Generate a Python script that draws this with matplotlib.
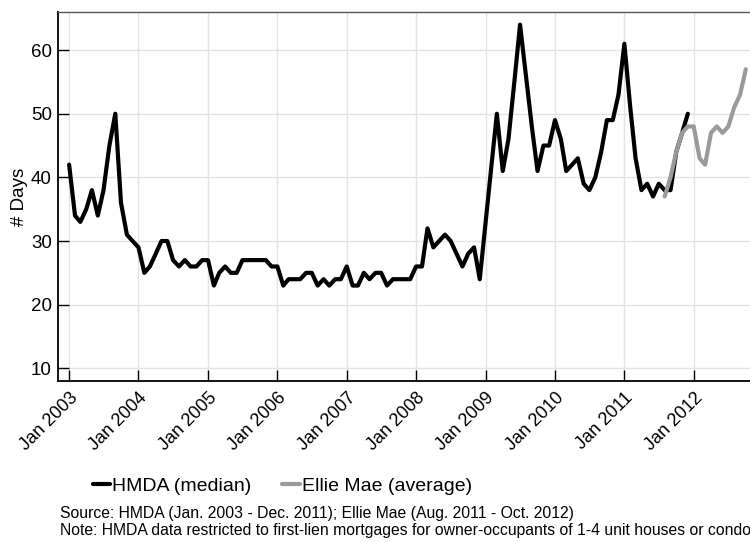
import matplotlib
matplotlib.use("Agg")
import matplotlib.pyplot as plt
import pandas as pd

plt.rcParams['font.family'] = ['Liberation Sans', 'DejaVu Sans']

# HMDA monthly median, Jan 2003 - Dec 2011
hmda_values = [
    42, 34, 33, 35, 38, 34, 38, 45, 50, 36, 31, 30,   # 2003
    29, 25, 26, 28, 30, 30, 27, 26, 27, 26, 26, 27,   # 2004
    27, 23, 25, 26, 25, 25, 27, 27, 27, 27, 27, 26,   # 2005
    26, 23, 24, 24, 24, 25, 25, 23, 24, 23, 24, 24,   # 2006
    26, 23, 23, 25, 24, 25, 25, 23, 24, 24, 24, 24,   # 2007
    26, 26, 32, 29, 30, 31, 30, 28, 26, 28, 29, 24,   # 2008
    33, 42, 50, 41, 46, 55, 64, 56, 48, 41, 45, 45,   # 2009
    49, 46, 41, 42, 43, 39, 38, 40, 44, 49, 49, 53,   # 2010
    61, 51, 43, 38, 39, 37, 39, 38, 38, 44, 47, 50,   # 2011
]
hmda_start = "2003-01-01"

# Ellie Mae monthly average, Aug 2011 - Oct 2012
ellie_values = [37, 40, 44, 47, 48, 48, 43, 42, 47, 48, 47, 48, 51, 53, 57]
ellie_start = "2011-08-01"

tick_years = list(range(2003, 2013))
tick_labels = [f"Jan {y}" for y in tick_years]
y_ticks = [10, 20, 30, 40, 50, 60]

hmda_dates = pd.date_range(hmda_start, periods=len(hmda_values), freq="MS")
ellie_dates = pd.date_range(ellie_start, periods=len(ellie_values), freq="MS")

fig = plt.figure(figsize=(7.5, 5.42), dpi=100)
ax = fig.add_axes([0.0767, 0.297, 0.941, 0.681])

ax.plot(hmda_dates, hmda_values, color="black", lw=3.0,
        solid_joinstyle="round", solid_capstyle="round", label="HMDA (median)", zorder=3)
ax.plot(ellie_dates, ellie_values, color="#9a9a9a", lw=3.0,
        solid_joinstyle="round", solid_capstyle="round", label="Ellie Mae (average)", zorder=4)

ax.set_xlim(pd.Timestamp("2002-11-01"), pd.Timestamp("2013-01-01"))
ax.set_ylim(8, 66)

xt = [pd.Timestamp(f"{y}-01-01") for y in tick_years]
ax.set_xticks(xt)
ax.set_xticklabels(tick_labels, rotation=45, ha="right", va="top",
                   rotation_mode="anchor", fontsize=13)
ax.set_yticks(y_ticks)
ax.set_yticklabels([str(v) for v in y_ticks], fontsize=13.5)
ax.tick_params(axis="both", direction="in", length=8, width=1, color="black", pad=4)
ax.tick_params(axis="x", pad=6)

ax.grid(True, color="#e3e3e3", lw=1)
ax.set_axisbelow(True)

ax.set_ylabel("# Days", fontsize=13.5, labelpad=2)

for s in ["left", "bottom"]:
    ax.spines[s].set_color("black")
    ax.spines[s].set_linewidth(1.3)
ax.spines["top"].set_color("#555555")
ax.spines["top"].set_linewidth(1.0)
ax.spines["right"].set_visible(False)

handles, labels = ax.get_legend_handles_labels()
fig.legend(handles, labels, loc="center left", bbox_to_anchor=(0.10, 0.103),
           ncol=2, frameon=False, fontsize=14, handlelength=0.9,
           handletextpad=0.1, columnspacing=1.6)

fig.text(0.08, 0.052, "Source: HMDA (Jan. 2003 - Dec. 2011); Ellie Mae (Aug. 2011 - Oct. 2012)",
         fontsize=11.3, ha="left", va="center")
fig.text(0.08, 0.022, "Note: HMDA data restricted to first-lien mortgages for owner-occupants of 1-4 unit houses or condos.",
         fontsize=11.3, ha="left", va="center")

fig.savefig("out.png", dpi=100)
